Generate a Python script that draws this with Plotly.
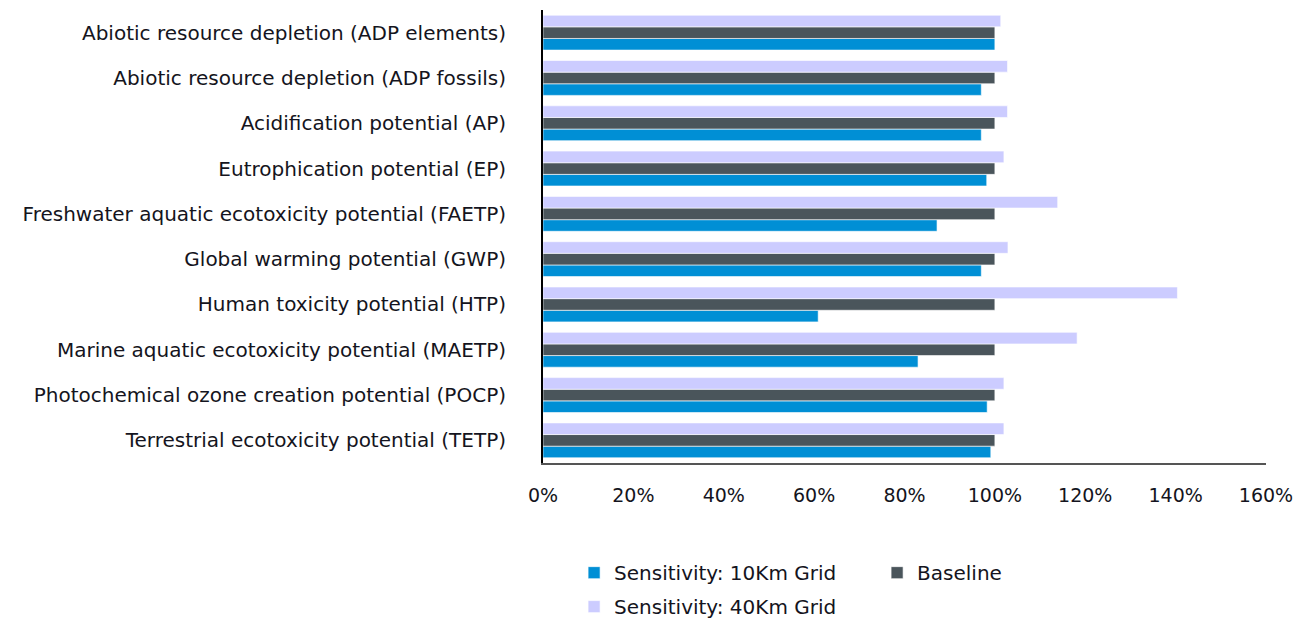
import plotly.graph_objects as go

categories = [
    "Abiotic resource depletion (ADP elements)",
    "Abiotic resource depletion (ADP fossils)",
    "Acidification potential (AP)",
    "Eutrophication potential (EP)",
    "Freshwater aquatic ecotoxicity potential (FAETP)",
    "Global warming potential (GWP)",
    "Human toxicity potential (HTP)",
    "Marine aquatic ecotoxicity potential (MAETP)",
    "Photochemical ozone creation potential (POCP)",
    "Terrestrial ecotoxicity potential (TETP)",
]

grid_10km = [100.0, 97.0, 97.0, 98.2, 87.2, 97.0, 60.9, 83.0, 98.3, 99.1]
baseline = [100.0] * 10
grid_40km = [101.3, 102.8, 102.8, 102.0, 113.9, 102.9, 140.4, 118.2, 102.0, 102.0]

x_ticks = [0, 20, 40, 60, 80, 100, 120, 140, 160]

_FONT = "DejaVu Sans, Arial, sans-serif"
_TEXT = "#141420"

# name, values, colour, which legend box
series = [
    ("Sensitivity: 10Km Grid", grid_10km, "#008fd5", "legend"),
    ("Baseline", baseline, "#4a555b", "legend"),
    ("Sensitivity: 40Km Grid", grid_40km, "#ccccff", "legend2"),
]

fig = go.Figure()
for name, vals, col, leg in series:
    fig.add_trace(
        go.Bar(
            y=categories,
            x=vals,
            name=name,
            orientation="h",
            legend=leg,
            marker=dict(color=col, line=dict(color="rgba(255,255,255,0.6)", width=1)),
        )
    )

_leg = dict(
    orientation="h",
    xanchor="left",
    yanchor="top",
    entrywidth=258,
    traceorder="normal",
    font=dict(size=20, color=_TEXT),
    itemclick=False,
    bgcolor="rgba(0,0,0,0)",
)

fig.update_layout(
    width=1311,
    height=624,
    barmode="group",
    bargap=0.23,
    bargroupgap=0,
    plot_bgcolor="white",
    paper_bgcolor="white",
    font=dict(family=_FONT, size=19, color=_TEXT),
    margin=dict(l=535, r=53, t=2, b=169, autoexpand=False),
    legend=dict(_leg, x=0.043, y=-0.199),
    legend2=dict(_leg, x=0.043, y=-0.274),
)
fig.update_xaxes(
    range=[0, 160],
    tickvals=x_ticks,
    ticktext=[f"{t}%" for t in x_ticks],
    showgrid=False,
    zeroline=False,
    showline=True,
    linecolor="#555555",
    linewidth=2,
    ticks="",
    ticklabelstandoff=14,
)
fig.update_yaxes(
    categoryorder="array",
    categoryarray=categories[::-1],
    showgrid=False,
    showline=True,
    linecolor="#000000",
    linewidth=2,
    ticks="",
    tickfont=dict(size=20),
    ticklabelstandoff=31,
)

fig.write_html("out.html")
